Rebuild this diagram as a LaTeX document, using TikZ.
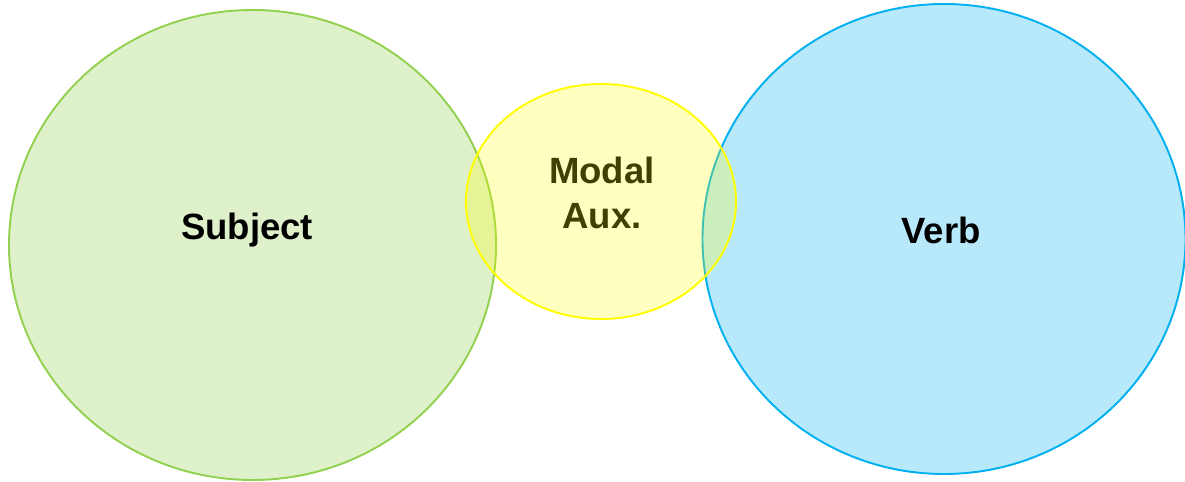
\documentclass[tikz,border=0pt]{standalone}
\usepackage{fontspec}
\setmainfont{Liberation Sans}

\definecolor{subjgreen}{HTML}{92D050}
\definecolor{modalyellow}{HTML}{FFFF00}
\definecolor{verbblue}{HTML}{00B0F0}
\definecolor{modaltext}{HTML}{404000}

\tikzset{
  venn/.style={line width=1.1pt, fill opacity=#1},
  venntext/.style={font=\fontsize{20.8}{25.6}\selectfont\bfseries, align=center}
}

\begin{document}
\begin{tikzpicture}[x=0.02cm, y=-0.02cm]
\useasboundingbox (0,0) rectangle (1185,482);
\filldraw[venn=0.3, draw=subjgreen, fill=subjgreen] (252.5,245) ellipse (243.5 and 235);
\filldraw[venn=0.28, draw=verbblue, fill=verbblue] (944,239) ellipse (241.5 and 235);
\filldraw[venn=0.25, draw=modalyellow, fill=modalyellow] (601,201.5) ellipse (135 and 117.5);
\node[venntext] (subject) at (247,230) {Subject};
\node[venntext, text=modaltext] (modal) at (602,193) {Modal\\Aux.};
\node[venntext] (verb) at (941,230) {Verb};
\end{tikzpicture}
\end{document}
